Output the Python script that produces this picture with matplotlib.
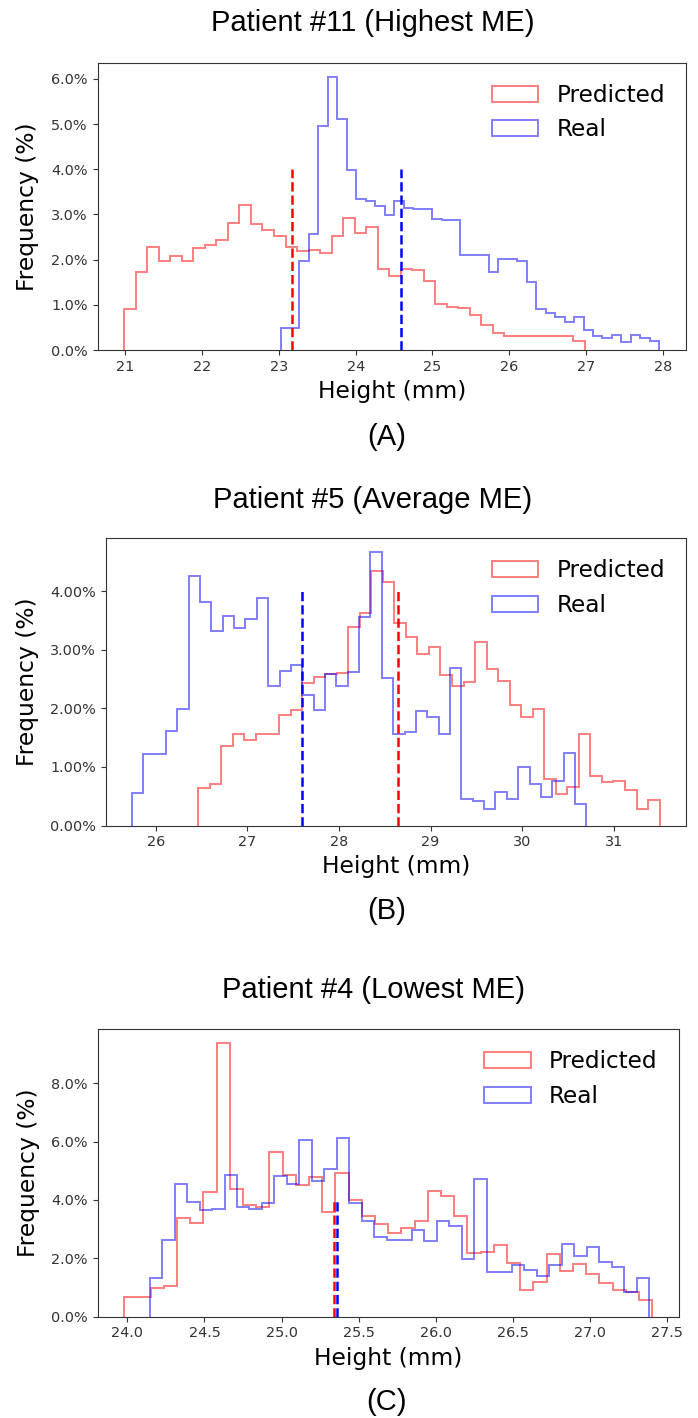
import numpy as np
import matplotlib
matplotlib.use("Agg")
import matplotlib.pyplot as plt
from matplotlib.ticker import PercentFormatter

# ---------------- data (heights in %, 40 equal-width bins per series) ----------------
# Panel A: Patient #11 (Highest ME)
a_pred_range = (20.987, 26.985)
a_pred = [0.90, 1.72, 2.29, 1.96, 2.08, 1.96, 2.25, 2.33, 2.44, 2.80,
          3.20, 2.78, 2.65, 2.53, 2.27, 2.20, 2.22, 2.15, 2.52, 2.92,
          2.58, 2.72, 1.79, 1.63, 1.79, 1.76, 1.53, 1.01, 0.95, 0.93,
          0.77, 0.55, 0.37, 0.32, 0.32, 0.30, 0.32, 0.30, 0.30, 0.20]
a_real_range = (23.022, 27.952)
a_real = [0.48, 0.48, 1.98, 2.56, 4.95, 6.05, 5.12, 3.99, 3.35, 3.30,
          3.19, 2.98, 3.30, 3.15, 3.12, 3.12, 2.89, 2.87, 2.87, 2.11,
          2.11, 2.11, 1.73, 2.02, 2.02, 1.97, 1.51, 0.90, 0.82, 0.74,
          0.61, 0.73, 0.44, 0.31, 0.26, 0.33, 0.18, 0.33, 0.27, 0.21]
a_pred_mean, a_real_mean = 23.17, 24.59

# Panel B: Patient #5 (Average ME)
b_pred_range = (26.465, 31.50)
b_pred = [0.64, 0.71, 1.35, 1.57, 1.46, 1.57, 1.57, 1.89, 1.97, 2.44,
          2.53, 2.58, 2.61, 3.39, 3.62, 4.34, 4.16, 3.45, 3.21, 2.92,
          3.04, 2.57, 2.38, 2.45, 3.14, 2.67, 2.46, 2.05, 1.85, 1.99,
          0.79, 0.53, 0.66, 1.56, 0.85, 0.74, 0.76, 0.60, 0.29, 0.43]
b_real_range = (25.74, 30.70)
b_real = [0.56, 1.22, 1.22, 1.61, 1.99, 4.26, 3.82, 3.32, 3.57, 3.37,
          3.53, 3.88, 2.38, 2.64, 2.74, 2.22, 1.98, 2.59, 2.38, 2.62,
          3.56, 4.67, 2.51, 1.57, 1.60, 1.95, 1.86, 1.57, 2.69, 0.46,
          0.42, 0.29, 0.58, 0.46, 1.00, 0.71, 0.49, 0.76, 1.24, 0.36]
b_pred_mean, b_real_mean = 28.65, 27.60

# Panel C: Patient #4 (Lowest ME)
c_pred_range = (23.979, 27.403)
c_pred = [0.67, 0.67, 0.97, 1.05, 3.38, 3.20, 4.27, 9.38, 4.36, 3.82,
          3.77, 5.64, 4.84, 4.52, 4.79, 3.59, 4.93, 4.01, 3.44, 3.17,
          2.85, 3.04, 3.27, 4.31, 4.12, 3.44, 2.18, 2.21, 2.44, 1.83,
          0.92, 1.18, 2.15, 1.55, 1.81, 1.47, 1.16, 0.91, 0.85, 0.57]
c_real_range = (24.144, 27.383)
c_real = [1.33, 2.63, 4.55, 3.92, 3.64, 3.69, 4.86, 3.74, 3.68, 3.89,
          4.83, 4.55, 6.05, 4.66, 5.07, 6.12, 3.89, 3.26, 2.73, 2.61,
          2.61, 2.97, 2.59, 3.27, 3.10, 1.98, 4.70, 1.51, 1.54, 1.77,
          1.60, 1.40, 1.75, 2.49, 2.07, 2.40, 1.86, 1.69, 0.85, 1.33]
c_pred_mean, c_real_mean = 25.338, 25.356

titles = ["Patient #11 (Highest ME)", "Patient #5 (Average ME)", "Patient #4 (Lowest ME)"]
sublabels = ["(A)", "(B)", "(C)"]
legend_labels = ["Predicted", "Real"]

# ---------------- layout (pixels) ----------------
W, H = 698, 1418
fig = plt.figure(figsize=(W / 100, H / 100), dpi=100)

def px_axes(left, right, top, bottom):
    return fig.add_axes([left / W, (H - bottom) / H, (right - left) / W, (bottom - top) / H])

panels = [
    dict(box=(97.5, 686, 63, 350), pred_rng=a_pred_range, pred=a_pred, real_rng=a_real_range,
         real=a_real, pm=a_pred_mean, rm=a_real_mean, dec=1, title_y=23, sub_y=437),
    dict(box=(105.5, 686, 538.3, 825.5), pred_rng=b_pred_range, pred=b_pred, real_rng=b_real_range,
         real=b_real, pm=b_pred_mean, rm=b_real_mean, dec=2, title_y=500, sub_y=911),
    dict(box=(97.7, 678.7, 1029.3, 1316.5), pred_rng=c_pred_range, pred=c_pred, real_rng=c_real_range,
         real=c_real, pm=c_pred_mean, rm=c_real_mean, dec=1, title_y=990, sub_y=1402),
]

title_font = ["Liberation Sans", "DejaVu Sans"]

for i, p in enumerate(panels):
    l, r, t, b = p["box"]
    ax = px_axes(l, r, t, b)
    pe = np.linspace(p["pred_rng"][0], p["pred_rng"][1], len(p["pred"]) + 1)
    re = np.linspace(p["real_rng"][0], p["real_rng"][1], len(p["real"]) + 1)
    ax.hist(pe[:-1], bins=pe, weights=p["pred"], histtype="step", color="red",
            alpha=0.5, lw=1.4, label=legend_labels[0])
    ax.hist(re[:-1], bins=re, weights=p["real"], histtype="step", color="blue",
            alpha=0.5, lw=1.4, label=legend_labels[1])
    ax.vlines(p["pm"], 0, 4, colors="red", linestyles="--", lw=1.8)
    ax.vlines(p["rm"], 0, 4, colors="blue", linestyles="--", lw=1.8)
    ax.yaxis.set_major_formatter(PercentFormatter(xmax=100, decimals=p["dec"]))
    ax.tick_params(labelsize=10.4, labelcolor="#333333", color="#333333")
    for s in ax.spines.values():
        s.set_color("#333333")
    ax.set_xlabel("Height (mm)", fontsize=16.8, va="center")
    ax.xaxis.set_label_coords(0.5, -41.5 / (b - t))
    ax.set_ylabel("Frequency (%)", fontsize=16.8, va="center")
    ax.yaxis.set_label_coords((28 - l) / (r - l), 0.5)
    ax.legend(loc="upper right", frameon=False, fontsize=16.7)
    fig.text(373 / W, 1 - p["title_y"] / H, titles[i], ha="center", va="center",
             fontsize=21, family=title_font)
    fig.text(387 / W, 1 - p["sub_y"] / H, sublabels[i], ha="center", va="center",
             fontsize=21, family=title_font)

fig.savefig("out.png", dpi=100)
